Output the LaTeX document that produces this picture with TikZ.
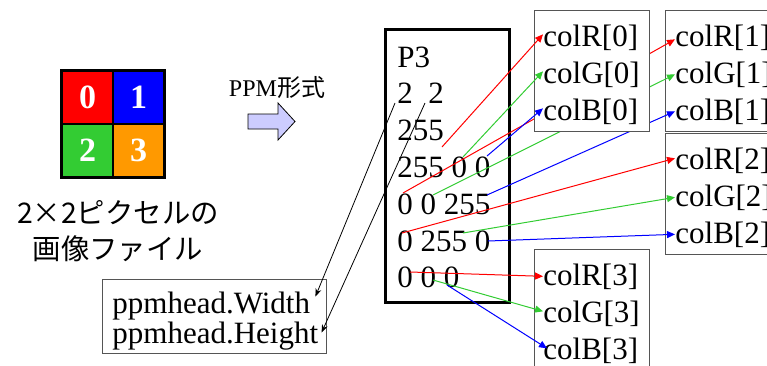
\documentclass[tikz,border=0pt]{standalone}
\usepackage{fontspec}
\setmainfont{Liberation Serif}
\newfontfamily\jpfont{Noto Sans CJK JP}
\usetikzlibrary{arrows.meta}
\definecolor{pxred}{HTML}{FF0000}
\definecolor{pxblue}{HTML}{0000FF}
\definecolor{pxgreen}{HTML}{33CC33}
\definecolor{pxorange}{HTML}{FF9900}
\definecolor{arrowfill}{HTML}{CCCCFF}
\definecolor{boxgray}{HTML}{555555}
\tikzset{
  pixel/.style={draw, line width=0.75pt, minimum width=25.5pt, minimum height=26.5pt,
    inner sep=0pt, text=white, font=\fontsize{17}{17}\selectfont\bfseries},
  txt/.style={anchor=base west, inner sep=0pt, font=\fontsize{15.5}{18}\selectfont},
  membox/.style={draw=boxgray, line width=0.5pt, fill=white, inner sep=0pt,
    minimum width=57.5pt, minimum height=60.5pt},
  val/.style={-{Triangle[length=4pt,width=3.5pt]}, line width=0.5pt},
  hd/.style={-{Stealth[length=4pt,width=3pt]}, line width=0.4pt}
}
\begin{document}
\begin{tikzpicture}[x=0.5pt,y=-0.5pt]
    \useasboundingbox (0,0) rectangle (767,365);
    % 2x2 image
    \foreach \n/\c/\i/\j in {0/pxred/0/0,1/pxblue/1/0,2/pxgreen/0/1,3/pxorange/1/1}
        \node[pixel, fill=\c] (px\n) at ({87.5+51*\i},{97.5+53*\j}) {\n};
    \draw[line width=1.25pt] (px0.north west) rectangle (px3.south east);
    \node[font=\jpfont\fontsize{14.2}{18}\selectfont, align=center] (caption) at (118,231)
        {2×2ピクセルの\\画像ファイル};
    % conversion arrow
    \node[font=\fontsize{12}{12}\selectfont] (fmt) at (277,87) {PPM{\jpfont 形式}};
    \draw[fill=arrowfill, line width=0.4pt] (248,114) -- (278,114) -- (278,103) -- (295,121.5)
        -- (278,140) -- (278,129) -- (248,129) -- cycle;
    % ppm file
    \node[draw, line width=1.5pt, minimum width=62pt, minimum height=136.5pt, inner sep=0pt]
        (ppmfile) at (447,165.5) {};
    \foreach \k/\s in {0/P3,1/{2\ \ 2},2/255,3/255 0 0,4/0 0 255,5/0 255 0,6/0 0 0}
        \node[txt] (line\k) at (397,{67+36.8*\k}) {\s};
    % header struct
    \node[membox, minimum width=112pt, minimum height=37pt] (ppmhead) at (214,316) {};
    \node[txt] (wtxt) at (112,313) {ppmhead.Width};
    \node[txt] (htxt) at (112,343) {ppmhead.Height};
    % start points on the values
    \coordinate (wsrc) at (395,103);
    \coordinate (hsrc) at (425,103);
    \foreach \n/\x/\y in {r0s/442/147,g0s/463/157,b0s/487/156,r1s/403/193,g1s/433/195,
        b1s/487/195,r2s/402/233,g2s/463/233,b2s/488/241,r3s/410/272,g3s/433/280,b3s/447/285}
        \coordinate (\n) at (\x,\y);
    % colour arrays
    \node[membox] (colbox1) at (723,70.5) {};
    \node[membox] (colbox2) at (723,193.5) {};
    \node[membox] (colbox3) at (591.5,309.5) {};
    \foreach \b/\x/\y in {1/675/46,2/675/169,3/543/285} {
        \node[txt] (r\b) at (\x,\y) {colR[\b]};
        \node[txt] (g\b) at (\x,\y+37) {colG[\b]};
        \node[txt] (b\b) at (\x,\y+74) {colB[\b]};
    }
    \draw[val, pxred] (r1s) -- ([yshift=-1pt]r1.west);
    \draw[val, pxgreen] (g1s) -- (g1.west);
    \draw[val, pxblue] (b1s) -- (b1.west);
    \node[membox] (colbox0) at (591.5,70.5) {};
    \node[txt] (r0) at (543,46) {colR[0]};
    \node[txt] (g0) at (543,83) {colG[0]};
    \node[txt] (b0) at (543,120) {colB[0]};
    \draw[val, pxred] (r0s) -- ([yshift=1.5pt]r0.west);
    \draw[val, pxgreen] (g0s) -- ([yshift=1.5pt]g0.west);
    \draw[val, pxblue] (b0s) -- ([yshift=1.5pt]b0.west);
    \draw[val, pxred] (r2s) -- ([yshift=1pt]r2.west);
    \draw[val, pxgreen] (g2s) -- (g2.west);
    \draw[val, pxblue] (b2s) -- (b2.west);
    \draw[val, pxred] (r3s) -- (r3.west);
    \draw[val, pxgreen] (g3s) -- ([yshift=1pt]g3.west);
    \draw[val, pxblue] (b3s) -- ([xshift=2pt,yshift=1pt]b3.west);
    % width and height
    \draw[hd] (wsrc) -- ([xshift=2.5pt,yshift=4.5pt]wtxt.east);
    \draw[hd] (hsrc) -- ([xshift=1.5pt,yshift=1.5pt]htxt.east);
\end{tikzpicture}
\end{document}
